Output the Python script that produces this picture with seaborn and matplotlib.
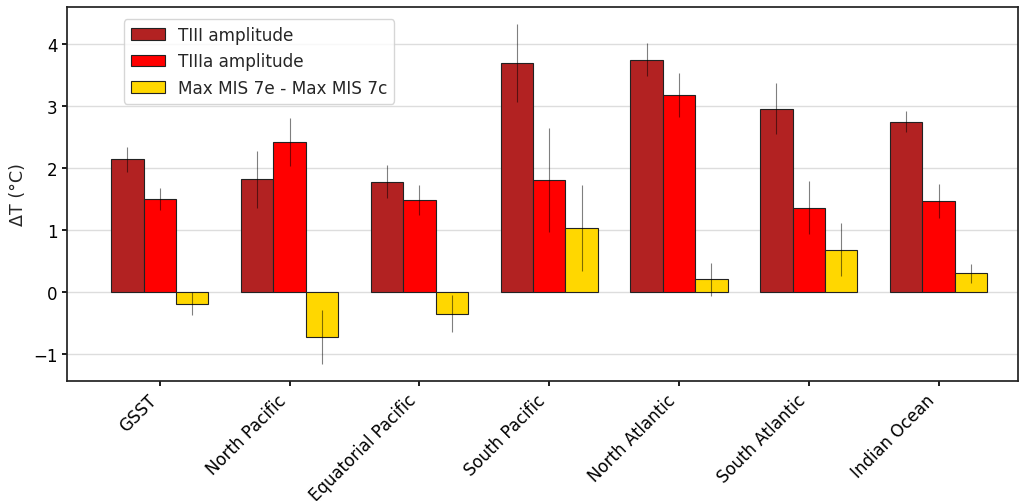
import numpy as np
import pandas as pd
import matplotlib
matplotlib.use("Agg")
import matplotlib.pyplot as plt
import seaborn as sns

regions = ["GSST", "North Pacific", "Equatorial Pacific", "South Pacific",
           "North Atlantic", "South Atlantic", "Indian Ocean"]
series = ["TIII amplitude", "TIIIa amplitude", "Max MIS 7e - Max MIS 7c"]

tiii = [2.14, 1.82, 1.78, 3.70, 3.75, 2.96, 2.75]
tiii_err = [0.20, 0.46, 0.27, 0.63, 0.27, 0.41, 0.17]
tiiia = [1.50, 2.42, 1.48, 1.81, 3.18, 1.36, 1.47]
tiiia_err = [0.18, 0.39, 0.24, 0.84, 0.35, 0.43, 0.27]
mis7 = [-0.19, -0.73, -0.35, 1.03, 0.20, 0.68, 0.30]
mis7_err = [0.18, 0.43, 0.30, 0.70, 0.26, 0.43, 0.15]

colors = ["#B22222", "#FF0000", "#FFD700"]

sns.set_theme(style="ticks")
plt.rcParams["font.family"] = ["DejaVu Sans"]

df = pd.DataFrame({
    "region": regions * 3,
    "series": np.repeat(series, len(regions)),
    "value": tiii + tiiia + mis7,
    "err": tiii_err + tiiia_err + mis7_err,
})

fig = plt.figure(figsize=(10.23, 5.02), dpi=100)
ax = fig.add_axes([0.0655, 0.239, 0.93, 0.745])

sns.barplot(data=df, x="region", y="value", hue="series", order=regions,
            hue_order=series, palette=colors, width=0.75, errorbar=None,
            edgecolor="#222222", linewidth=0.8, saturation=1, ax=ax, zorder=2)

# error bars at the centre of each bar
lookup = {(r, s): e for r, s, e in zip(df["region"], df["series"], df["err"])}
for container, s in zip(ax.containers, series):
    for bar, r in zip(container, regions):
        xc = bar.get_x() + bar.get_width() / 2
        yv = bar.get_y() + bar.get_height()
        ax.errorbar(xc, yv, yerr=lookup[(r, s)], fmt="none",
                    ecolor="black", alpha=0.5, elinewidth=0.8, capsize=0, zorder=3)

ax.set_xlim(-0.715, 6.615)
ax.set_ylim(-1.44, 4.6)
ax.set_yticks([-1, 0, 1, 2, 3, 4])
ax.yaxis.grid(True, color="#dddddd", linewidth=1, zorder=0)
ax.set_axisbelow(True)
ax.set_xlabel("")
ax.set_ylabel("ΔT (°C)", fontsize=12.6)
ax.tick_params(axis="both", labelsize=12, colors="black", length=3.5)
plt.setp(ax.get_xticklabels(), rotation=45, ha="right", rotation_mode="default")
for sp in ax.spines.values():
    sp.set_color("#222222")
    sp.set_visible(True)

leg = ax.legend(loc="upper left", bbox_to_anchor=(0.051, 0.99), fontsize=12.2,
                frameon=True, framealpha=0.8, edgecolor="#cccccc")

fig.savefig("out.png", dpi=100)
